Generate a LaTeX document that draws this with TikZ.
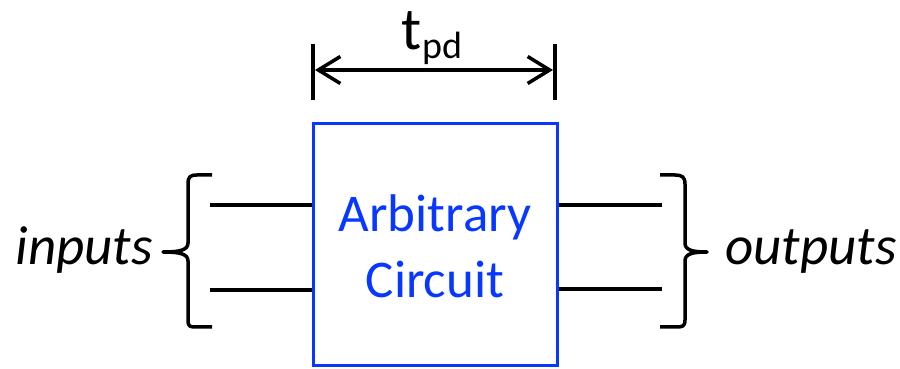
\documentclass[tikz,border=0pt]{standalone}
\usepackage{fontspec}
\setmainfont{Carlito}
\usetikzlibrary{arrows.meta}
\definecolor{boxblue}{RGB}{8,56,255}
\tikzset{
  wire/.style={line width=3.5pt, line cap=butt},
  bracepath/.style={line width=3.5pt, line join=round},
  lbl/.style={inner sep=0pt, font=\fontsize{55}{60}\selectfont\itshape},
  boxtext/.style={anchor=base, text=boxblue, inner sep=0pt, font=\fontsize{53}{60}\selectfont},
  barb/.tip={Straight Barb[length=22pt,width=27pt,line width=3.5pt]},
}
\begin{document}
\begin{tikzpicture}[x=1pt,y=1pt]
\useasboundingbox (0,0) rectangle (900,369);
% box
\node[draw=boxblue, line width=3pt, minimum width=244pt, minimum height=242pt, inner sep=0pt] (box) at (435,124) {};
\node[boxtext] (t1) at (435,137) {Arbitrary};
\node[boxtext] (t2) at (435,71) {Circuit};
% wires
\coordinate (i1) at (210,164);
\coordinate (i2) at (210,79);
\coordinate (o1) at (662,164);
\coordinate (o2) at (662,80);
\draw[wire] (i1) -- (i1 -| box.west);
\draw[wire] (i2) -- (i2 -| box.west);
\draw[wire] (o1 -| box.east) -- (o1);
\draw[wire] (o2 -| box.east) -- (o2);
% braces
\draw[bracepath] (212,194) -- (197,194) .. controls (190,194) and (188,192) .. (188,185) -- (188,126) .. controls (188,119) and (180,117) .. (163,117) .. controls (180,117) and (188,115) .. (188,108) -- (188,49) .. controls (188,42) and (190,42) .. (197,42) -- (212,42);
\draw[bracepath] (660,194) -- (675,194) .. controls (682,194) and (685,192) .. (685,185) -- (685,126) .. controls (685,119) and (692,117) .. (707,117) .. controls (692,117) and (685,115) .. (685,108) -- (685,49) .. controls (685,42) and (682,42) .. (675,42) -- (660,42);
\node[lbl, anchor=base east] (inp) at (153,104) {inputs};
\node[lbl, anchor=base west] (outp) at (725,104) {outputs};
% tpd dimension
\coordinate (b1t) at (313,325);
\coordinate (b1b) at (313,269);
\coordinate (b2t) at (555,325);
\coordinate (b2b) at (555,269);
\draw[line width=3.5pt] (b1t) -- (b1b);
\draw[line width=3.5pt] (b2t) -- (b2b);
\coordinate (al) at (315,299);
\coordinate (ar) at (553,299);
\draw[line width=3.5pt, barb-barb] (al) -- (ar);
\node[anchor=base, inner sep=0pt] (tpd) at (432,319) {\fontsize{60}{64}\selectfont t\raisebox{-9pt}{\fontsize{38}{40}\selectfont pd}};
\end{tikzpicture}
\end{document}
